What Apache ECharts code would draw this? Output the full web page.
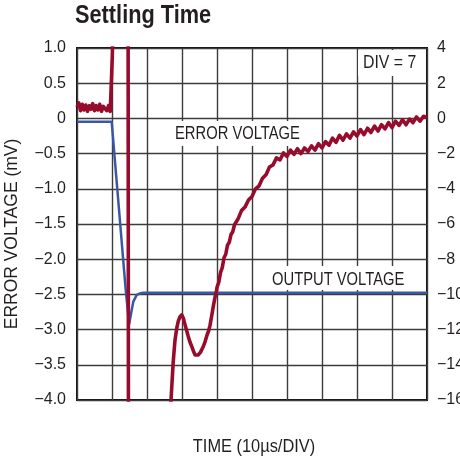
<!DOCTYPE html>
<html><head><meta charset="utf-8">
<script src="https://cdn.jsdelivr.net/npm/echarts@6/dist/echarts.min.js"></script>
<style>html,body{margin:0;padding:0;background:#fff}#c{width:460px;height:458px}</style>
</head><body><div id="c"></div>
<script>
// Error voltage (mV, left axis) vs time (µs)
const errT = [0,0.5,1,1.5,2,2.5,3,3.5,4,4.5,5,5.5,6,6.5,7,7.5,8,8.5,9,9.5,9.9,
  10.1,10.35,14.6,14.7,26.1,
  26.86,27.5,28.0,28.5,28.94,29.4,29.91,30.4,30.86,31.3,31.8,32.3,32.86,33.3,33.71,34.2,34.66,35.3,36.09,36.6,37.14,37.6,38.0,38.5,38.94,39.4,39.91,
  40,40.5,41,41.5,42,42.5,43,43.5,44,44.5,45,46,47,48,49,50,51,52,53,54,55,56,57,58,59,60,61,62,63,64,65,66,67,68,69,70,
  71,72,73,74,75,76,77,78,79,80,81,82,83,84,85,86,87,88,89,90,91,92,93,94,95,96,97,98,99,100];
const errV = [0.16,0.22,0.11,0.20,0.12,0.19,0.10,0.18,0.13,0.21,0.11,0.18,0.12,0.20,0.10,0.17,0.19,0.11,0.18,0.10,0.10,
  0.9,1.6,1.6,-4.6,-4.6,
  -4.0,-3.45,-3.15,-2.98,-2.88,-2.82,-2.79,-2.84,-2.93,-3.01,-3.10,-3.18,-3.25,-3.31,-3.36,-3.37,-3.36,-3.32,-3.24,-3.17,-3.08,-3.02,-2.94,-2.80,-2.67,-2.55,-2.44,
  -2.40,-2.33,-2.19,-2.12,-1.98,-1.93,-1.80,-1.76,-1.65,-1.61,-1.51,-1.43,-1.31,-1.26,-1.16,-1.11,-1.00,-0.96,-0.85,-0.80,-0.69,-0.66,-0.56,-0.59,-0.49,-0.54,-0.45,-0.51,-0.43,-0.50,-0.42,-0.47,-0.39,-0.45,-0.36,-0.42,
  -0.33,-0.38,-0.28,-0.34,-0.24,-0.31,-0.22,-0.28,-0.19,-0.25,-0.16,-0.23,-0.14,-0.20,-0.11,-0.18,-0.09,-0.15,-0.06,-0.13,-0.04,-0.10,-0.02,-0.09,-0.01,-0.06,0.02,-0.04,0.03,0.01];
// Output voltage (V, right axis) vs time (µs)
const outT = [0,9.91,13.9,14.9,15.14,15.63,16.09,17.06,18.0,18.94,100];
const outV = [-0.19,-0.19,-9.7,-11.7,-11.74,-10.89,-10.41,-10.03,-9.95,-9.9,-9.9];
const leftTicks = [-4,-3.5,-3,-2.5,-2,-1.5,-1,-0.5,0,0.5,1];
const rightTicks = [-16,-14,-12,-10,-8,-6,-4,-2,0,2,4];

const FONT = "'Liberation Sans',Arial,sans-serif";
const INK = '#231f20';
const minus = s => s.replace('-', '\u2212');
const chart = echarts.init(document.getElementById('c'), null, {renderer:'canvas'});
chart.setOption({
  animation:false,
  backgroundColor:'#fff',
  grid:{left:77, right:33, top:48, bottom:58, outerBoundsMode:'none', containLabel:false,
    show:true, borderColor:'#111', borderWidth:2, backgroundColor:'transparent'},
  xAxis:{type:'value', min:0, max:100, interval:10,
    axisLine:{show:false}, axisTick:{show:false}, axisLabel:{show:false},
    splitLine:{show:true, lineStyle:{color:'#3c3c3c', width:1.4}}},
  yAxis:[
    {type:'value', min:leftTicks[0], max:leftTicks[leftTicks.length-1], interval:0.5, position:'left',
      axisLine:{show:false}, axisTick:{show:false},
      axisLabel:{margin:11, fontFamily:FONT, fontSize:16, color:INK,
        formatter:v => v === 0 ? '0' : minus(v.toFixed(1))},
      splitLine:{show:true, lineStyle:{color:'#3c3c3c', width:1.4}}},
    {type:'value', min:rightTicks[0], max:rightTicks[rightTicks.length-1], interval:2, position:'right',
      axisLine:{show:false}, axisTick:{show:false},
      axisLabel:{margin:10, fontFamily:FONT, fontSize:16, color:INK,
        formatter:v => minus(String(v))},
      splitLine:{show:false}}
  ],
  graphic:{elements:[
    {type:'text', z:1, x:75, y:4, scaleX:0.87, style:{text:'Settling Time', fontFamily:FONT, fontWeight:'bold', fontSize:25, fill:INK, textVerticalAlign:'top'}},
    {type:'rect', z:1, shape:{x:171, y:121, width:133, height:25}, style:{fill:'#fff'}},
    {type:'text', z:1, z2:10, x:175, y:134, scaleX:0.82, style:{text:'ERROR VOLTAGE', fontFamily:FONT, fontSize:18, fill:INK, textVerticalAlign:'middle'}},
    {type:'rect', z:1, shape:{x:268, y:266, width:142, height:24}, style:{fill:'#fff'}},
    {type:'text', z:1, z2:10, x:272, y:280, scaleX:0.82, style:{text:'OUTPUT VOLTAGE', fontFamily:FONT, fontSize:18, fill:INK, textVerticalAlign:'middle'}},
    {type:'rect', z:1, shape:{x:358, y:50, width:67, height:26}, style:{fill:'#fff'}},
    {type:'text', z:1, z2:10, x:363, y:63, scaleX:0.88, style:{text:'DIV = 7', fontFamily:FONT, fontSize:18, fill:INK, textVerticalAlign:'middle'}},
    {type:'text', z:1, x:12, y:234, rotation:Math.PI/2, scaleX:0.97, style:{text:'ERROR VOLTAGE (mV)', fontFamily:FONT, fontSize:18, fill:INK, textAlign:'center', textVerticalAlign:'middle'}},
    {type:'text', z:1, x:254, y:447, scaleX:0.91, style:{text:'TIME (10\u00b5s/DIV)', fontFamily:FONT, fontSize:18, fill:INK, textAlign:'center', textVerticalAlign:'middle'}}
  ]},
  series:[
    {type:'line', name:'OUTPUT VOLTAGE', yAxisIndex:1, z:5, symbol:'none', clip:true,
      data: outT.map((t,i)=>[t,outV[i]]),
      lineStyle:{color:'#3a56a5', width:2.5}},
    {type:'line', name:'ERROR VOLTAGE', yAxisIndex:0, z:6, symbol:'none', clip:true,
      data: errT.map((t,i)=>[t,errV[i]]),
      lineStyle:{color:'#970b2c', width:3.6, join:'round'}}
  ]
});
</script></body></html>
